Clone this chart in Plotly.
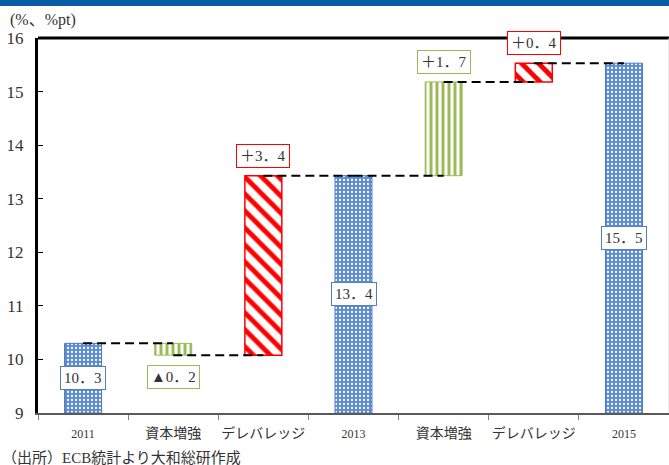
import plotly.graph_objects as go

# Waterfall: CET1 ratio change (2011 -> 2013 -> 2015)
categories = ["2011", "資本増強", "デレバレッジ", "2013", "資本増強", "デレバレッジ", "2015"]
kinds = ["total", "capital", "delev", "total", "capital", "delev", "total"]
values = [10.3, -0.22, 3.35, 13.43, 1.75, 0.35, 15.53]
labels = ["10．3", "▲0．2", "＋3．4", "13．4", "＋1．7", "＋0．4", "15．5"]

y_min, y_max = 9, 16

BLUE = "#5b8bd0"
GREEN = "#9bbb59"
RED = "#ff0000"
FONT = "Liberation Serif, Noto Sans CJK JP"

# bar bottoms / tops
bases, tops = [], []
level = y_min
for kind, v in zip(kinds, values):
    if kind == "total":
        bases.append(y_min)
        tops.append(v)
        level = v
    else:
        bases.append(min(level, level + v))
        tops.append(max(level, level + v))
        level = level + v

styles = {
    "total": dict(color=BLUE, opacity=1,
                  pattern=dict(shape=".", fgcolor="white", bgcolor=BLUE,
                               size=4, solidity=0.25, fgopacity=1),
                  line=dict(color="#4a78bd", width=1)),
    "capital": dict(color=GREEN, opacity=1,
                    pattern=dict(shape="|", fgcolor=GREEN, bgcolor="white",
                                 size=6, solidity=0.5, fgopacity=1),
                    line=dict(color=GREEN, width=1)),
    "delev": dict(color=RED, opacity=1,
                  pattern=dict(shape="\\", fgcolor=RED, bgcolor="white",
                               size=12, solidity=0.4, fgopacity=1),
                  line=dict(color=RED, width=1.5)),
}
border = {"total": "#4f81bd", "capital": GREEN, "delev": RED}

fig = go.Figure()

for kind in ["total", "capital", "delev"]:
    idx = [i for i, k in enumerate(kinds) if k == kind]
    fig.add_trace(go.Bar(
        x=idx,
        y=[tops[i] - bases[i] for i in idx],
        base=[bases[i] for i in idx],
        width=0.41,
        marker=styles[kind],
        showlegend=False,
        hoverinfo="skip",
    ))

# dashed connectors between bar centres
cx, cy = [], []
level = None
for i, (kind, v) in enumerate(zip(kinds, values)):
    end = v if kind == "total" else level + v
    if i < len(kinds) - 1:
        cx += [i, i + 1, None]
        cy += [end, end, None]
    level = end
fig.add_trace(go.Scatter(
    x=cx, y=cy, mode="lines",
    line=dict(color="black", width=2, dash="9px,5px"),
    showlegend=False, hoverinfo="skip",
))

# value boxes
for i, (kind, v, lab) in enumerate(zip(kinds, values, labels)):
    if kind == "total":
        y, shift = (y_min + v) / 2, 0
    elif v < 0:
        y, shift = bases[i], -22
    else:
        y, shift = tops[i], 20
    fig.add_annotation(
        x=i, y=y, yshift=shift, text=lab, showarrow=False,
        font=dict(family=FONT, size=15, color="#333333"),
        bgcolor="white", bordercolor=border[kind], borderwidth=1, borderpad=3,
    )

fig.add_annotation(
    xref="paper", yref="paper", x=-30 / 631, y=1 + 18 / 375,
    xanchor="left", yanchor="middle", text="(%、%pt)", showarrow=False,
    font=dict(family=FONT, size=16, color="#333333"),
)
fig.add_annotation(
    xref="paper", yref="paper", x=-38 / 631, y=-45 / 375,
    xanchor="left", yanchor="middle", text="（出所）ECB統計より大和総研作成", showarrow=False,
    font=dict(family=FONT, size=15, color="#333333"),
)

# header band, top frame, right edge
fig.add_shape(type="rect", xref="paper", yref="paper", x0=-0.1, x1=1.1,
              y0=1 + 32 / 375, y1=1 + 40 / 375, fillcolor="#0b5ca8", line_width=0, layer="above")
fig.add_shape(type="line", xref="paper", yref="paper", x0=0, x1=1, y0=1, y1=1,
              line=dict(color="black", width=3))
fig.add_shape(type="line", xref="paper", yref="paper", x0=1, x1=1, y0=0, y1=1,
              line=dict(color="#d9d9d9", width=1))

tick_text = [f'<span style="font-size:12px">{c}</span>' if c.isdigit() else c for c in categories]

fig.update_layout(
    width=669, height=465,
    margin=dict(l=38, r=0, t=38, b=52, autoexpand=False),
    paper_bgcolor="white", plot_bgcolor="white",
    barmode="overlay",
    font=dict(family=FONT, color="#333333"),
    xaxis=dict(
        range=[-0.5, len(categories) - 0.5],
        tickvals=list(range(len(categories))), ticktext=tick_text,
        ticks="", showgrid=False, zeroline=False, automargin=False,
        showline=True, linecolor="#595959", linewidth=2,
        tickfont=dict(size=14, family=FONT, color="#333333"),
        ticklabelstandoff=6,
        minor=dict(tick0=-0.5, dtick=1, ticks="outside", ticklen=5,
                   tickcolor="#7f7f7f", tickwidth=1),
    ),
    yaxis=dict(
        range=[y_min, y_max], dtick=1,
        ticks="inside", ticklen=5, tickcolor="black", tickwidth=1,
        showgrid=False, zeroline=False, automargin=False,
        showline=True, linecolor="black", linewidth=3,
        tickfont=dict(size=17, family=FONT, color="#333333"),
        ticklabelstandoff=8,
    ),
)

fig.write_html("out.html", config={"displayModeBar": False},
               post_script="document.body.style.margin='0';")
